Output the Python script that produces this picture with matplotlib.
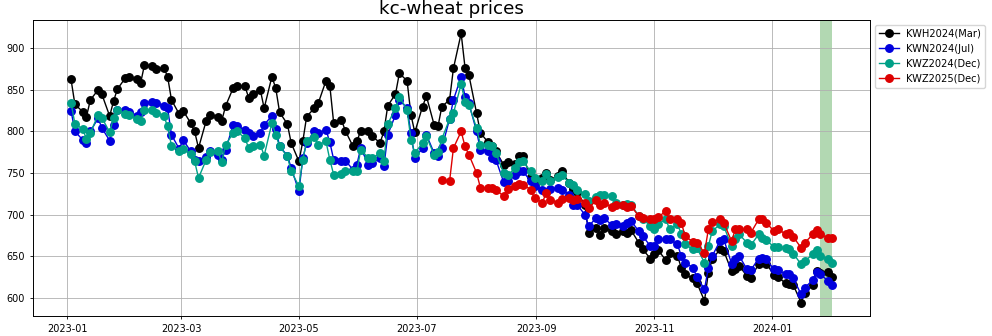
# KC wheat futures - price history of four contracts
# reads prices every second business day, plots them with the roll window shaded

import numpy as np
import pandas as pd
import matplotlib
matplotlib.use("Agg")
import matplotlib.pyplot as plt
import matplotlib.dates as mdates

# ─── DATA ─────────────────────────────────────────────────────
# every 2nd business day from 2023-01-03, plus the last session
DATES = list(pd.bdate_range(start="2023-01-03", periods=141, freq="2B")) + [pd.Timestamp("2024-02-01")]

KWH2024 = [
    862.6, 832.5, 824, 818, 838,
    850, 844.5, 818.5, 836.5, 851,
    864, 865, 862.6, 858, 880,
    878.7, 875, 877, 866, 838,
    821, 825, 810, 800, 780,
    813, 820, 818, 812.4, 830.5,
    852.6, 854.6, 854.6, 840.5, 845,
    850, 828, 866, 852, 823,
    809, 786, 764, 788, 818,
    828, 834, 861, 855, 810,
    814, 801, 782, 788, 801,
    800, 794, 786.4, 800, 831,
    845, 870, 861, 820, 799,
    830, 842.5, 808, 806, 830,
    838, 876, 918, 877, 868,
    822, 798, 787, 783, 776,
    760, 763, 761, 770, 770,
    745, 738, 744, 750, 741,
    746, 752, 738, 731, 727,
    712, 678, 684, 675, 684,
    680, 677, 680, 678, 681,
    666, 658, 647, 652, 657,
    645, 654, 650, 636, 628,
    623, 618, 596, 630, 646,
    658, 656, 632, 634, 638,
    626, 624, 640, 643, 641,
    627, 625, 617, 616, 615,
    594, 606, 615, 632, 630,
    631, 625,
]

KWN2024 = [
    825, 800, 790, 786, 800,
    816, 804, 789, 808, 826,
    826, 824, 818.5, 824, 834,
    836, 834, 830.5, 828, 796,
    779, 790, 776, 766, 764,
    769, 776, 772, 766, 778,
    808, 806, 802, 798, 795,
    798, 808, 819, 803, 782,
    771, 756, 728, 768, 786,
    801, 798, 802, 787, 766,
    765, 765, 754, 760, 780,
    760, 762, 768, 758, 796,
    820, 838, 828, 798, 768,
    780, 796, 774, 770, 780,
    815, 838, 866, 842, 834,
    800, 778, 776, 768, 766,
    739, 740, 748, 752, 752,
    740, 734, 730, 727, 731,
    732, 730, 724, 712, 712,
    700, 686, 696, 693, 696,
    687, 688, 686, 690, 692,
    680, 674, 662, 662, 670,
    670, 670, 664, 650, 642,
    636, 625, 610, 636, 650,
    668, 670, 641, 646, 650,
    634, 633, 647, 648, 646,
    634, 633, 628, 628, 623,
    604, 612, 621, 631, 628,
    620, 615,
]

KWZ2024 = [
    834.5, 809, 803, 791, 798,
    820, 816.5, 799, 816.5, 826,
    821, 820, 815, 813, 826,
    826, 822, 819, 806, 783,
    777, 779, 773, 764, 744,
    766, 775, 776, 763, 784,
    798, 800, 792, 780, 783,
    784, 771, 810, 796, 782,
    770, 752, 734, 766, 788,
    793, 784, 788, 766, 748,
    749, 752, 752, 752, 778,
    768, 768, 774, 765, 809,
    828, 842, 826, 790, 774,
    786, 794, 772, 775, 791,
    815, 822, 857, 836, 832,
    804, 784, 784, 782, 774,
    750, 747, 756, 763, 764,
    752, 744, 740, 749, 740,
    745, 748, 738, 736, 729,
    725, 716, 721, 724, 723,
    722, 714, 712, 713, 712,
    698, 695, 686, 682, 689,
    694, 682, 689, 676, 664,
    658, 660, 642, 662, 680,
    688, 686, 662, 670, 676,
    666, 663, 676, 672, 669,
    661, 661, 660, 659, 653,
    640, 644, 652, 657, 650,
    646, 642,
]

# Dec 2025 contract only starts trading mid July 2023
KWZ2025 = [
    741,
    740, 780, 800, 782, 772,
    750, 732, 732, 732, 730,
    722, 731, 734, 737, 736,
    730, 720, 714, 726, 718,
    714, 719, 720, 718, 719,
    714, 708, 717, 711, 714,
    709, 711, 712, 709, 710,
    698, 696, 694, 694, 697,
    704, 694, 694, 690, 674,
    667, 666, 654, 682, 691,
    694, 690, 668, 682, 682,
    682, 678, 694, 694, 690,
    680, 683, 676, 678, 673,
    660, 666, 676, 681, 676,
    672, 672,
]

SERIES = [
    ("KWH2024(Mar)", KWH2024, "black"),
    ("KWN2024(Jul)", KWN2024, "#0000dd"),
    ("KWZ2024(Dec)", KWZ2024, "#00a087"),
    ("KWZ2025(Dec)", KWZ2025, "#dd0000"),
]

SHADE_START = "2024-01-26"
SHADE_END   = "2024-02-01"
# ──────────────────────────────────────────────────────────────

fig = plt.figure(figsize=(9.92, 3.36), dpi=100)
ax = fig.add_axes([33 / 992, 20 / 336, 837 / 992, 296 / 336])

for name, values, color in SERIES:
    # later contracts have fewer sessions, align them to the end
    x = DATES[-len(values):]
    ax.plot(x, values, marker="o", markersize=5.4, linewidth=1.0,
            color=color, label=name)

ax.axvspan(pd.Timestamp(SHADE_START), pd.Timestamp(SHADE_END), color="green", alpha=0.3, lw=0)

ax.set_title("kc-wheat prices", fontsize=13.2, pad=4)
ax.xaxis.set_major_locator(mdates.MonthLocator(bymonth=[1, 3, 5, 7, 9, 11]))
ax.xaxis.set_major_formatter(mdates.DateFormatter("%Y-%m"))
ax.set_yticks(np.arange(600, 901, 50))
ax.tick_params(labelsize=7, length=2.5, width=0.6)
ax.grid(True, color="#b0b0b0", linewidth=0.6)
for s in ax.spines.values():
    s.set_linewidth(0.7)

ax.legend(loc="upper left", bbox_to_anchor=(1.0, 1.0), fontsize=7.1,
          borderaxespad=0.5, handlelength=2.0)

fig.savefig("out.png", dpi=100)
